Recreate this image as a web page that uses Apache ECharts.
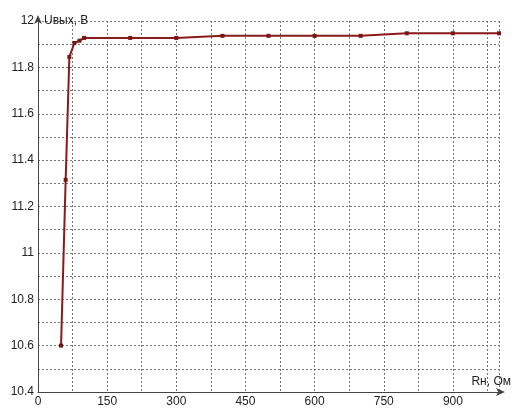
<!DOCTYPE html>
<html><head><meta charset="utf-8">
<script src="https://cdn.jsdelivr.net/npm/echarts@6/dist/echarts.min.js"></script>
<style>html,body{margin:0;padding:0;background:#fff}#c{width:524px;height:419px}</style>
</head><body><div id="c"></div>
<script>
const rLoad = [50, 60, 68, 79, 90, 100, 200, 300, 400, 500, 600, 700, 800, 900, 1000];
const uOut = [10.6, 11.315, 11.845, 11.905, 11.915, 11.927, 11.927, 11.927, 11.936, 11.936, 11.936, 11.936, 11.947, 11.947, 11.947];
const xName = 'Rн, Ом';
const yName = 'Uвых, В';

const chart = echarts.init(document.getElementById('c'));
const font = 'Liberation Sans, Arial, sans-serif';
chart.setOption({
  backgroundColor: '#fff',
  animation: false,
  grid: { left: 38, right: 25, top: 21, bottom: 27, containLabel: false },
  xAxis: {
    type: 'value', min: 0, max: 1000, interval: 75,
    name: xName, nameLocation: 'end', nameGap: 0,
    nameTextStyle: { color: '#222', fontSize: 12, fontFamily: font, align: 'right', verticalAlign: 'bottom', padding: [0, -12, 4, 0] },
    axisLine: { show: true, onZero: false, lineStyle: { color: '#444', width: 1 }, symbol: ['none', 'arrow'], symbolSize: [6, 9], symbolOffset: [0, 6] },
    axisTick: { show: false },
    axisLabel: { color: '#222', fontSize: 12, fontFamily: font, margin: 4,
      formatter: v => (Math.round(v) % 150 === 0 ? String(v) : '') },
    splitLine: { show: true, lineStyle: { color: '#777', type: [2, 2], width: 1 } }
  },
  yAxis: {
    type: 'value', min: 10.4, max: 12, interval: 0.1,
    name: yName, nameLocation: 'end', nameGap: 0,
    nameTextStyle: { color: '#222', fontSize: 12, fontFamily: font, align: 'left', verticalAlign: 'middle', padding: [0, 0, 8, 6] },
    axisLine: { show: true, onZero: false, lineStyle: { color: '#444', width: 1 }, symbol: ['none', 'arrow'], symbolSize: [6, 9], symbolOffset: [0, 6] },
    axisTick: { show: false },
    axisLabel: { color: '#222', fontSize: 12, fontFamily: font, margin: 4,
      formatter: v => (Math.round(v * 10) % 2 === 0 ? String(Math.round(v * 10) / 10) : '') },
    splitLine: { show: true, lineStyle: { color: '#777', type: [2, 2], width: 1 } }
  },
  series: [{
    type: 'line',
    data: rLoad.map((x, i) => [x, uOut[i]]),
    symbol: 'rect', symbolSize: 4,
    itemStyle: { color: '#7a1515' },
    lineStyle: { color: '#8b1a1a', width: 2 }
  }]
});
</script></body></html>
